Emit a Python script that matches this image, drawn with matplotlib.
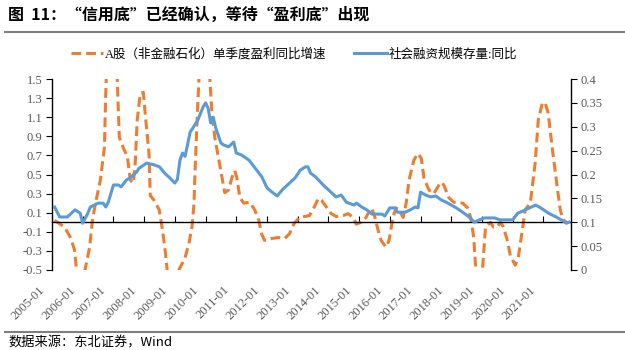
import matplotlib.pyplot as plt
from matplotlib.lines import Line2D

plt.rcParams['font.family'] = ['Liberation Serif', 'Noto Sans CJK SC']

# x = months counted from 2005-01
profit_m = [1.0, 4.9, 7.2, 8.8, 9.6, 11.0, 12.9, 14.7, 15.8, 17.0, 18.9, 20.5, 20.9, 21.3,
            23.0, 25.0, 25.5, 26.3, 28.3, 29.4, 30.6, 31.8, 32.5, 33.3, 34.5, 35.7, 36.4,
            37.9, 38.4, 39.9, 41.9, 43.0, 44.2, 45.0, 47.5, 49.6, 52.0, 53.5, 54.7, 55.5,
            55.9, 56.7, 57.4, 59.5, 61.7, 62.5, 63.6, 65.2, 66.4, 67.5, 69.1, 70.3, 71.4,
            72.2, 73.4, 74.9, 77.3, 79.2, 80.8, 81.9, 83.0, 85.8, 88.5, 90.9, 92.8, 94.7,
            96.7, 98.6, 100.6, 102.5, 104.1, 105.3, 107.2, 109.1, 111.1, 113.8, 115.7,
            117.7, 118.9, 120.8, 122.7, 124.7, 125.8, 127.4, 128.6, 130.5, 131.7, 133.2,
            134.4, 135.6, 137.2, 138.4, 139.5, 141.4, 143.0, 144.3, 145.3, 146.9, 148.0,
            149.2, 151.9, 153.1, 155.0, 156.9, 160.5, 162.4, 163.6, 164.8, 165.6, 167.0,
            168.2, 169.4, 171.3, 172.5, 174.0, 175.2, 176.4, 177.9, 179.1, 181.0, 182.2,
            183.8, 184.9, 186.9, 188.8, 190.0, 191.6, 192.7, 193.9, 195.4, 197.4, 198.6,
            199.7, 201.3]
profit_yoy = [0.02, -0.05, -0.16, -0.29, -0.5, -0.9, -0.5, -0.26, 0.02, 0.20, 0.44, 0.79, 1.25, 1.6,
              2.6, 1.7, 1.49, 0.89, 0.75, 0.70, 0.44, 0.41, 0.62, 1.07, 1.35, 1.36, 1.14,
              0.72, 0.28, 0.23, 0.13, -0.05, -0.29, -0.5, -1.0, -0.5, -0.37, -0.22, -0.05, 0.20,
              0.54, 1.07, 1.49, 2.4, 1.49, 1.14, 0.89, 0.65, 0.47, 0.31, 0.34, 0.47, 0.54,
              0.47, 0.26, 0.20, 0.21, 0.13, 0.02, -0.12, -0.19, -0.17, -0.16, -0.17, -0.12, -0.01,
              0.05, 0.06, 0.07, 0.16, 0.25, 0.23, 0.16, 0.09, 0.06, 0.07, 0.09,
              0.05, -0.02, 0.0, 0.05, 0.15, 0.09, -0.08, -0.19, -0.26, -0.19, 0.05,
              0.15, 0.13, 0.05, 0.20, 0.44, 0.65, 0.72, 0.67, 0.47, 0.36, 0.31,
              0.30, 0.42, 0.39, 0.26, 0.21, 0.20, 0.15, 0.05, -0.16, -0.5, -0.8,
              -0.5, -0.05, 0.0, -0.05, -0.05, 0.0, -0.05, -0.19, -0.35, -0.45, -0.37,
              -0.08, 0.13, 0.20, 0.62, 1.07, 1.25, 1.25, 1.14, 0.79, 0.37, 0.13,
              0.03, -0.01]

tsf_m = [1, 3, 6, 9, 11, 12, 14, 15, 18, 20, 21, 22, 24, 26, 27, 29, 31, 33, 34, 37, 40, 42,
         44, 46, 48, 49, 50, 51, 52, 54, 55, 57, 59, 60, 61, 62, 63, 64, 66, 67, 69, 71, 72,
         74, 77, 79, 82, 84, 86, 88, 90, 92, 95, 97, 99, 100, 101, 103, 106, 108, 111, 113,
         115, 118, 119, 121, 123, 125, 129, 130, 132, 134, 135, 138, 140, 142, 143, 144, 146,
         148, 150, 152, 154, 156, 158, 161, 163, 165, 167, 169, 173, 175, 180, 182, 185, 189,
         191, 194, 197, 199, 201, 202]
tsf_yoy = [0.132, 0.111, 0.111, 0.126, 0.119, 0.098, 0.119, 0.132, 0.140, 0.140, 0.132, 0.142,
           0.178, 0.178, 0.174, 0.188, 0.195, 0.205, 0.213, 0.224, 0.220, 0.216, 0.203, 0.193,
           0.182, 0.190, 0.230, 0.245, 0.238, 0.289, 0.297, 0.314, 0.341, 0.350, 0.339, 0.308,
           0.320, 0.297, 0.266, 0.262, 0.258, 0.268, 0.245, 0.241, 0.230, 0.216, 0.195, 0.172,
           0.163, 0.155, 0.168, 0.178, 0.193, 0.209, 0.216, 0.216, 0.203, 0.195, 0.178, 0.168,
           0.153, 0.157, 0.142, 0.136, 0.140, 0.132, 0.126, 0.117, 0.117, 0.113, 0.130, 0.130,
           0.121, 0.121, 0.126, 0.132, 0.130, 0.163, 0.157, 0.153, 0.155, 0.147, 0.142, 0.136,
           0.130, 0.119, 0.111, 0.100, 0.105, 0.109, 0.109, 0.105, 0.105, 0.119, 0.126, 0.136,
           0.130, 0.119, 0.111, 0.105, 0.098, 0.100]

tick_pos = list(range(0, 193, 12))
tick_labels = [f"{y}-01" for y in range(2005, 2022)]

fig = plt.figure(figsize=(6.25, 3.5), dpi=100)
ax = fig.add_axes([52 / 625, 1 - 270 / 350, 519 / 625, 191 / 350])
ax2 = ax.twinx()

l1, = ax.plot(profit_m, profit_yoy, color='#ED7D31', lw=2.2, ls=(0, (3.2, 1.6)),
              label='A股（非金融石化）单季度盈利同比增速')
l2, = ax2.plot(tsf_m, tsf_yoy, color='#5B9BD5', lw=2.2, label='社会融资规模存量:同比')

ax.set_xlim(1.05, 202.8)
ax.set_ylim(-0.5, 1.5)
ax2.set_ylim(0, 0.4)

yt = [-0.5 + 0.2 * i for i in range(11)]
ax.set_yticks(yt)
ax.set_yticklabels([f"{v:.1f}" for v in yt])
yt2 = [0.05 * i for i in range(9)]
ax2.set_yticks(yt2)
ax2.set_yticklabels([f"{v:g}" for v in [round(t, 2) for t in yt2]])

for s in ['top', 'right']:
    ax.spines[s].set_visible(False)
for s in ['top', 'left', 'bottom']:
    ax2.spines[s].set_visible(False)
ax.spines['bottom'].set_position(('data', 0))
for s in [ax.spines['left'], ax.spines['bottom'], ax2.spines['right']]:
    s.set_color('black')
    s.set_linewidth(1.0)

ax.tick_params(axis='y', direction='out', length=4, color='black', labelcolor='#595959', labelsize=9, pad=3)
ax2.tick_params(axis='y', direction='out', length=4, color='black', labelcolor='#595959', labelsize=9, pad=3)
ax.set_xticks(tick_pos)
ax.tick_params(axis='x', direction='in', length=4, color='black', labelbottom=False)

for p, lab in zip(tick_pos, tick_labels):
    ax.annotate(lab, xy=(p, 0), xycoords=('data', 'axes fraction'), xytext=(-5, -14),
                textcoords='offset pixels', rotation=45, ha='right', va='top',
                fontsize=9, color='#595959', annotation_clip=False)

fig.legend(handles=[l1, l2], loc='center', bbox_to_anchor=(0.47, 1 - 54 / 350), ncol=2,
           frameon=False, fontsize=9, handlelength=2.6, handletextpad=0.15, columnspacing=2.2)

fig.text(0.013, 1 - 15 / 350, "图  11：“信用底”已经确认，等待“盈利底”出现", fontsize=11.5,
         fontweight='bold', va='center', family=['Noto Sans CJK SC'])
fig.add_artist(Line2D([0.008, 1], [1 - 32 / 350] * 2, color='#7f7f7f', lw=1.5))
fig.add_artist(Line2D([0.008, 1], [1 - 332 / 350] * 2, color='#7f7f7f', lw=1.5))
fig.text(0.013, 1 - 336 / 350, "数据来源：东北证券，Wind", fontsize=9.5, va='top',
         family=['Noto Sans CJK SC', 'Liberation Serif'])

fig.savefig('out.png', dpi=100)
